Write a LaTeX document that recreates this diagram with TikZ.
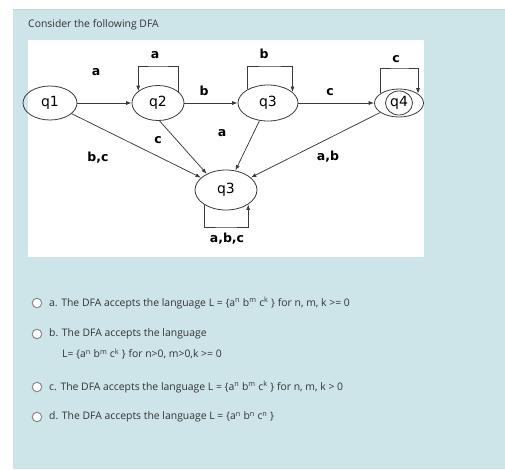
\documentclass[tikz,border=0pt]{standalone}
\usepackage{fontspec}
\setmainfont{Open Sans}
\newfontfamily\dfafont{DejaVu Sans}
\usetikzlibrary{arrows.meta,shapes.geometric}
\definecolor{panel}{HTML}{CDE5E9}
\definecolor{panelline}{HTML}{BFD6DA}
\definecolor{txt}{HTML}{333333}
\definecolor{edge}{HTML}{3A3A3A}
\definecolor{radio}{HTML}{8A8A8A}
\begin{document}
\begin{tikzpicture}[x=1pt,y=-1pt,
  state/.style={draw=edge, line width=0.8pt, ellipse, inner sep=0pt, font=\dfafont\fontsize{14}{16}\selectfont},
  arr/.style={draw=edge, line width=0.75pt, -{Latex[length=5.5pt,width=4pt]}},
  lab/.style={font=\dfafont\bfseries\fontsize{12.5}{14}\selectfont, inner sep=0pt},
  qtext/.style={anchor=west, inner sep=0pt, text=txt, font=\fontsize{10.4}{12}\selectfont},
  radiobtn/.style={circle, draw=radio, fill=white, line width=1pt, minimum size=9.5pt, inner sep=0pt}]
\useasboundingbox (0,0) rectangle (505,469);
\fill[white] (0,0) rectangle (505,469);
\fill[panel] (13,9) rectangle (505,469);
\draw[panelline, line width=1pt] (13,9.5) -- (505,9.5);
\fill[white] (28,40) rectangle (424,257);

\node[qtext] (title) at (28,25) {Consider the following DFA};

% states
\node[state, minimum width=54pt, minimum height=34pt] (q1) at (50,103) {q1};
\node[state, minimum width=52pt, minimum height=35pt] (q2) at (158,103) {q2};
\node[state, minimum width=60pt, minimum height=36pt] (q3) at (268,103) {q3};
\node[state, minimum width=49pt, minimum height=28pt] (q4) at (399,103) {q4};
\draw[edge, line width=0.8pt] (q4.center) ellipse [x radius=13.5pt, y radius=12pt];
\node[state, minimum width=62pt, minimum height=40pt] (q3b) at (226,190) {q3};

% loop tops
\coordinate (l2) at (158,66);
\coordinate (l3) at (270,66);
\coordinate (l4) at (400,68);
\coordinate (l5) at (226,227);

\draw[arr] (q2.29) |- (l2) -| (q2.149);
\draw[arr] (q3.146) |- (l3) -| (q3.24);
\draw[arr] (q4.152) |- (l4) -| (q4.26);
\draw[arr] (q3b.215) |- (l5) -| (q3b.327);

% edges
\draw[arr] (q1) -- (q2);
\draw[arr] (q2) -- (q3);
\draw[arr] (q3) -- (q4);
\draw[arr] (q1) -- (q3b);
\draw[arr] (q2.-85) -- (q3b.140);
\draw[arr] (q3) -- (q3b);
\draw[arr] (q4) -- (q3b);

% labels
\node[lab] (la1) at (96,72) {a};
\node[lab] (la2) at (155,55) {a};
\node[lab] (lb1) at (204,91) {b};
\node[lab] (lb2) at (264,54) {b};
\node[lab] (lc1) at (330,92) {c};
\node[lab] (lc2) at (396,59) {c};
\node[lab] (lc3) at (158,140) {c};
\node[lab] (lbc) at (98,158) {b,c};
\node[lab] (la3) at (222,133) {a};
\node[lab] (lab) at (328,157) {a,b};
\node[lab] (labc) at (227,239) {a,b,c};

% options
\node[radiobtn] (ra) at (37,303) {};
\node[qtext] (ta) at (49,303) {a. The DFA accepts the language L = \{a\textsuperscript{n} b\textsuperscript{m} c\textsuperscript{k} \} for n, m, k >= 0};
\node[radiobtn] (rb) at (37,334) {};
\node[qtext] (tb) at (49,334) {b. The DFA accepts the language};
\node[qtext] (tb2) at (62,354) {L= \{a\textsuperscript{n} b\textsuperscript{m} c\textsuperscript{k} \} for n>0, m>0,k >= 0};
\node[radiobtn] (rc) at (37,387) {};
\node[qtext] (tc) at (49,387) {c. The DFA accepts the language L = \{a\textsuperscript{n} b\textsuperscript{m} c\textsuperscript{k} \} for n, m, k > 0};
\node[radiobtn] (rd) at (37,417) {};
\node[qtext] (td) at (49,417) {d. The DFA accepts the language L = \{a\textsuperscript{n} b\textsuperscript{n} c\textsuperscript{n} \}};
\end{tikzpicture}
\end{document}
